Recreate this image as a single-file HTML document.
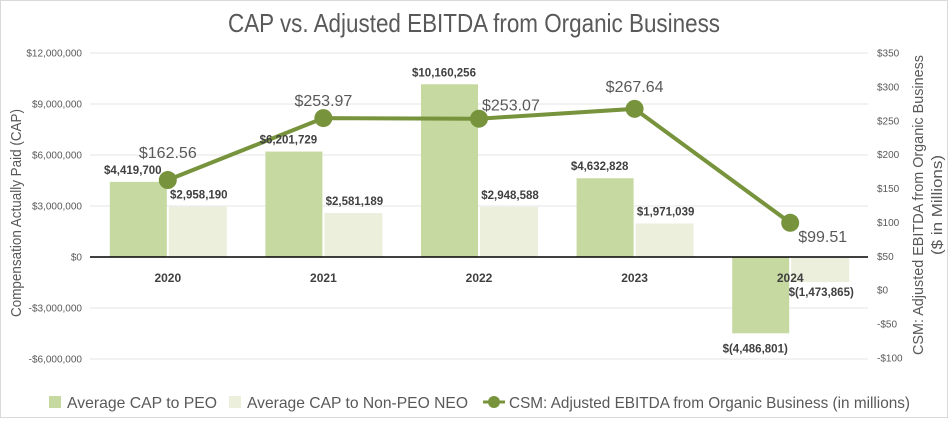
<!DOCTYPE html>
<html><head><meta charset="utf-8"><style>
body{margin:0;background:#fff;}
svg{display:block;font-family:"Liberation Sans",sans-serif;}
</style></head><body>
<svg id="chart" width="951" height="421" viewBox="0 0 951 421">
<rect x="0.5" y="0.5" width="947" height="417" fill="#fff" stroke="#d9d9d9"/>
<text x="474" y="32" font-size="26" fill="#595959" text-anchor="middle" textLength="492" lengthAdjust="spacingAndGlyphs">CAP vs. Adjusted EBITDA from Organic Business</text>
<g id="grid"></g><g id="bars"></g><g id="line"></g><g id="labels"></g>
<text transform="translate(21,213) rotate(-90)" font-size="15" fill="#595959" text-anchor="middle" textLength="208" lengthAdjust="spacingAndGlyphs">Compensation Actually Paid (CAP)</text>
<text transform="translate(923,205) rotate(-90)" font-size="15" fill="#595959" text-anchor="middle" textLength="300" lengthAdjust="spacingAndGlyphs">CSM: Adjusted EBITDA from Organic Business</text>
<text transform="translate(942,205) rotate(-90)" font-size="15" fill="#595959" text-anchor="middle" textLength="100" lengthAdjust="spacingAndGlyphs">($ in Millions)</text>
<g font-size="16" fill="#595959">
<rect x="49" y="396" width="12" height="12" fill="#c5d9a0"/>
<text x="67" y="408" textLength="150" lengthAdjust="spacingAndGlyphs">Average CAP to PEO</text>
<rect x="229" y="396" width="12" height="12" fill="#ebefdc"/>
<text x="247" y="408" textLength="221" lengthAdjust="spacingAndGlyphs">Average CAP to Non-PEO NEO</text>
<line x1="483" y1="402" x2="505" y2="402" stroke="#77933c" stroke-width="3"/>
<circle cx="494" cy="402" r="6" fill="#77933c"/>
<text x="509" y="408" textLength="401" lengthAdjust="spacingAndGlyphs">CSM: Adjusted EBITDA from Organic Business (in millions)</text>
</g>
</svg>
<script>
const categories=["2020","2021","2022","2023","2024"];
const peoValues=[4419700,6201729,10160256,4632828,-4486801];
const nonPeoValues=[2958190,2581189,2948588,1971039,-1473865];
const ebitdaValues=[162.56,253.97,253.07,267.64,99.51];
const leftTicks=[12000000,9000000,6000000,3000000,0,-3000000,-6000000];
const leftTickLabels=["$12,000,000","$9,000,000","$6,000,000","$3,000,000","$0","-$3,000,000","-$6,000,000"];
const rightTicks=[350,300,250,200,150,100,50,0,-50,-100];
const rightTickLabels=["$350","$300","$250","$200","$150","$100","$50","$0","-$50","-$100"];
const peoLabels=["$4,419,700","$6,201,729","$10,160,256","$4,632,828","$(4,486,801)"];
const nonPeoLabels=["$2,958,190","$2,581,189","$2,948,588","$1,971,039","$(1,473,865)"];
const ebitdaLabels=["$162.56","$253.97","$253.07","$267.64","$99.51"];

const NS="http://www.w3.org/2000/svg";
const X0=90,X1=868,band=(X1-X0)/categories.length;
const yL=v=>257-v*(204/12000000);
const yR=v=>358-(v+100)*(305/450);
const xc=i=>X0+band*(i+0.5);
function mk(tag,attrs,parent,txt){const e=document.createElementNS(NS,tag);for(const k in attrs)e.setAttribute(k,attrs[k]);if(txt!==undefined)e.textContent=txt;parent.appendChild(e);return e;}
const grid=document.getElementById('grid'),bars=document.getElementById('bars'),line=document.getElementById('line'),labels=document.getElementById('labels');
leftTicks.forEach((t,i)=>{
 if(t!==0){const g=mk('line',{x1:X0,x2:X1,y1:yL(t),y2:yL(t),stroke:'#e6e6e6','stroke-width':1},grid);
 
 }
 const l=mk('text',{x:82,y:yL(t)+3.5,'font-size':10,fill:'#595959','text-anchor':'end'},grid,leftTickLabels[i]);
 
 
});
rightTicks.forEach((t,i)=>{
 const l=mk('text',{x:877,y:yR(t)+3.5,'font-size':10,fill:'#595959'},grid,rightTickLabels[i]);
 
 
});
const bw=58;
categories.forEach((c,i)=>{
 const cx=xc(i);
 const p=peoValues[i],n=nonPeoValues[i];
 const b1=mk('rect',{x:cx-bw,y:Math.min(yL(p),yL(0)),width:bw-1,height:Math.abs(yL(p)-yL(0)),fill:'#c5d9a0'},bars);
 
 
 const b2=mk('rect',{x:cx+1,y:Math.min(yL(n),yL(0)),width:bw,height:Math.abs(yL(n)-yL(0)),fill:'#ebefdc'},bars);
 
 
 const pl=mk('text',{x:cx-bw/2-6,y:p>=0?yL(p)-8:yL(p)+19,'font-size':11.5,'font-weight':'bold',fill:'#404040','text-anchor':'middle'},labels,peoLabels[i]);
 
 
 const nl=mk('text',{x:cx+bw/2+2,y:n>=0?yL(n)-8:yL(n)+14,'font-size':11.5,'font-weight':'bold',fill:'#404040','text-anchor':'middle'},labels,nonPeoLabels[i]);
 
 
 const yl=mk('text',{x:cx,y:282,'font-size':12,'font-weight':'bold',fill:'#404040','text-anchor':'middle'},labels,c);
 
 
});
const ax=mk('line',{x1:X0,x2:X1,y1:yL(0),y2:yL(0),stroke:'#000','stroke-width':1.5},bars);


const pts=ebitdaValues.map((v,i)=>xc(i)+','+yR(v)).join(' ');
const pl=mk('polyline',{points:pts,fill:'none',stroke:'#77933c','stroke-width':4},line);


const labelLift=[22,12,0,17,0];
ebitdaValues.forEach((v,i)=>{
 const c=mk('circle',{cx:xc(i),cy:yR(v),r:9,fill:'#77933c'},line);
 
 
 let lx=xc(i),ly=yR(v)-labelLift[i],anchor='middle';
 if(i===2){lx=xc(i)+3;ly=yR(v)-8;anchor='start';}
 if(i===categories.length-1){lx=xc(i)+8;ly=yR(v)+19;anchor='start';}
 const t=mk('text',{x:lx,y:ly,'font-size':16,fill:'#595959','text-anchor':anchor},labels,ebitdaLabels[i]);
 
 
});
</script>
</body></html>
